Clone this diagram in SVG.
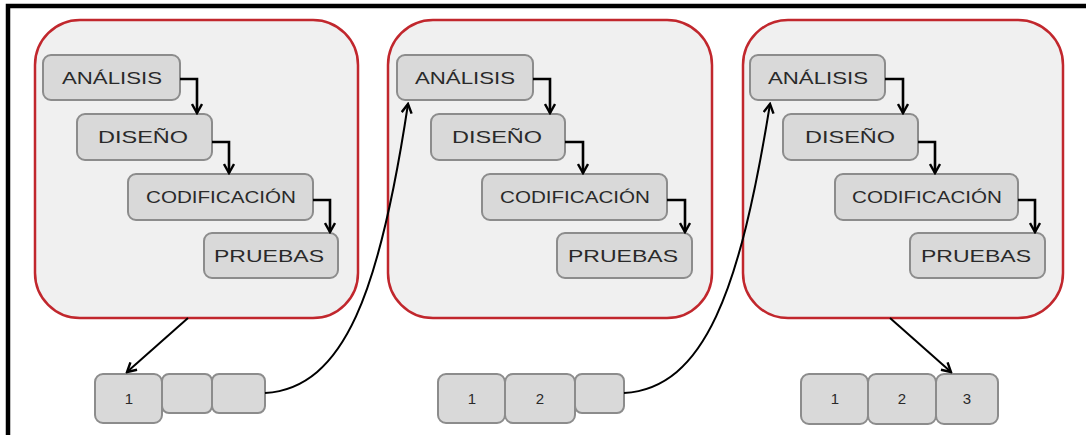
<svg xmlns="http://www.w3.org/2000/svg" width="1086" height="437" viewBox="0 0 1086 437">
<style>
.frame{fill:none;stroke:#000;stroke-width:4.5}
.cont{fill:#f0f0f0;stroke:#c1272d;stroke-width:2.5}
.box{fill:#d9d9d9;stroke:#8c8c8c;stroke-width:2}
.lbl{font-family:"Liberation Sans",Arial,sans-serif;font-size:17px;fill:#2a2a2a;text-anchor:middle}
.num{font-family:"Liberation Sans",Arial,sans-serif;font-size:15px;fill:#2a2a2a;text-anchor:middle}
.step{fill:none;stroke:#000;stroke-width:2.6;marker-end:url(#ah)}
.conn{fill:none;stroke:#000;stroke-width:2;marker-end:url(#ah)}
</style>
<defs>
<marker id="ah" viewBox="0 0 12 12" refX="10" refY="6" markerWidth="12" markerHeight="12" orient="auto" markerUnits="userSpaceOnUse">
<path d="M1,1 L10,6 L1,11" fill="none" stroke="#000" stroke-width="2.4"/>
</marker>
</defs>
<rect width="1086" height="437" fill="#fff"/>
<path class="frame" d="M8,435 V6 H1086"/>

<g id="fase1">
<rect class="cont" x="35" y="20" width="323" height="298" rx="45"/>
<g id="f1-analisis"><rect class="box" x="43" y="55" width="137" height="45" rx="8"/><text class="lbl" x="112" y="84" textLength="100" lengthAdjust="spacingAndGlyphs">ANÁLISIS</text></g>
<g id="f1-diseno"><rect class="box" x="77" y="114" width="135" height="46" rx="8"/><text class="lbl" x="143" y="143" textLength="90" lengthAdjust="spacingAndGlyphs">DISEÑO</text></g>
<g id="f1-codificacion"><rect class="box" x="128" y="174" width="185" height="46" rx="8"/><text class="lbl" x="221" y="203" textLength="150" lengthAdjust="spacingAndGlyphs">CODIFICACIÓN</text></g>
<g id="f1-pruebas"><rect class="box" x="204" y="233" width="134" height="45" rx="8"/><text class="lbl" x="269" y="262" textLength="110" lengthAdjust="spacingAndGlyphs">PRUEBAS</text></g>
</g>

<g id="fase2">
<rect class="cont" x="388" y="20" width="324" height="298" rx="45"/>
<g id="f2-analisis"><rect class="box" x="397" y="55" width="136" height="45" rx="8"/><text class="lbl" x="465" y="84" textLength="100" lengthAdjust="spacingAndGlyphs">ANÁLISIS</text></g>
<g id="f2-diseno"><rect class="box" x="431" y="114" width="134" height="46" rx="8"/><text class="lbl" x="497" y="143" textLength="90" lengthAdjust="spacingAndGlyphs">DISEÑO</text></g>
<g id="f2-codificacion"><rect class="box" x="482" y="174" width="185" height="46" rx="8"/><text class="lbl" x="575" y="203" textLength="150" lengthAdjust="spacingAndGlyphs">CODIFICACIÓN</text></g>
<g id="f2-pruebas"><rect class="box" x="557" y="233" width="135" height="45" rx="8"/><text class="lbl" x="623" y="262" textLength="110" lengthAdjust="spacingAndGlyphs">PRUEBAS</text></g>
</g>

<g id="fase3">
<rect class="cont" x="743" y="20" width="320" height="298" rx="45"/>
<g id="f3-analisis"><rect class="box" x="750" y="55" width="135" height="45" rx="8"/><text class="lbl" x="818" y="84" textLength="100" lengthAdjust="spacingAndGlyphs">ANÁLISIS</text></g>
<g id="f3-diseno"><rect class="box" x="783" y="114" width="135" height="46" rx="8"/><text class="lbl" x="850" y="143" textLength="90" lengthAdjust="spacingAndGlyphs">DISEÑO</text></g>
<g id="f3-codificacion"><rect class="box" x="835" y="174" width="183" height="46" rx="8"/><text class="lbl" x="927" y="203" textLength="150" lengthAdjust="spacingAndGlyphs">CODIFICACIÓN</text></g>
<g id="f3-pruebas"><rect class="box" x="910" y="233" width="135" height="45" rx="8"/><text class="lbl" x="976" y="262" textLength="110" lengthAdjust="spacingAndGlyphs">PRUEBAS</text></g>
</g>

<g id="entrega1">
<g id="e1-b1"><rect class="box" x="95" y="374" width="67" height="49" rx="8"/><text class="num" x="129" y="404">1</text></g>
<g id="e1-b2"><rect class="box" x="162" y="374" width="50" height="39" rx="7"/></g>
<g id="e1-b3"><rect class="box" x="212" y="374" width="53" height="39" rx="7"/></g>
</g>
<g id="entrega2">
<g id="e2-b1"><rect class="box" x="438" y="374" width="67" height="49" rx="8"/><text class="num" x="472" y="404">1</text></g>
<g id="e2-b2"><rect class="box" x="505" y="374" width="70" height="49" rx="8"/><text class="num" x="540" y="404">2</text></g>
<g id="e2-b3"><rect class="box" x="575" y="374" width="49" height="39" rx="7"/></g>
</g>
<g id="entrega3">
<g id="e3-b1"><rect class="box" x="801" y="374" width="67" height="50" rx="8"/><text class="num" x="835" y="404">1</text></g>
<g id="e3-b2"><rect class="box" x="868" y="374" width="68" height="50" rx="8"/><text class="num" x="902" y="404">2</text></g>
<g id="e3-b3"><rect class="box" x="936" y="374" width="62" height="50" rx="8"/><text class="num" x="967" y="404">3</text></g>
</g>

<g id="connectors">
<path class="step" d="M180,79 H197 V113"/>
<path class="step" d="M212,142 H229 V173"/>
<path class="step" d="M313,200 H330 V232"/>
<path class="step" d="M533,79 H550 V113"/>
<path class="step" d="M565,142 H583 V173"/>
<path class="step" d="M667,200 H685 V232"/>
<path class="step" d="M885,79 H903 V113"/>
<path class="step" d="M918,142 H935 V173"/>
<path class="step" d="M1018,200 H1035 V232"/>
<path class="conn" d="M188,318 L127,372"/>
<path class="conn" d="M890,318 L951,372"/>
<path class="conn" d="M265,393 C345,388 380,290 408,104"/>
<path class="conn" d="M624,393 C705,388 740,290 770,104"/>
</g>
</svg>
